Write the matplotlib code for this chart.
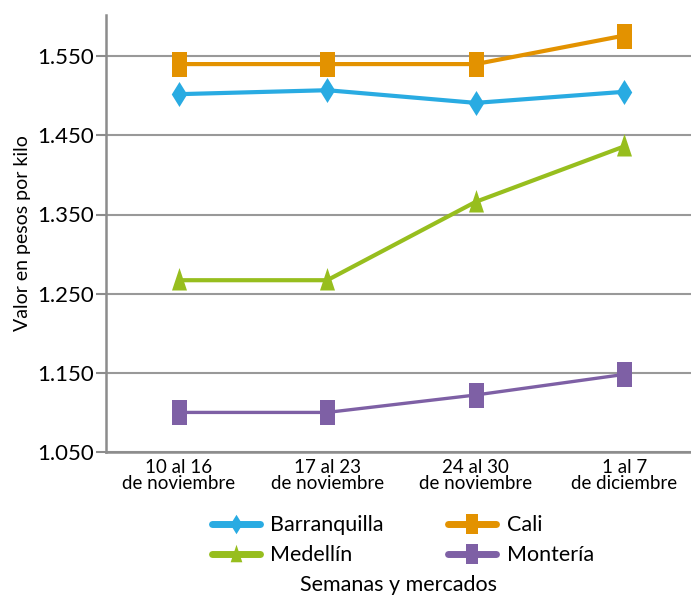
import matplotlib
matplotlib.use("Agg")
import matplotlib.pyplot as plt

plt.rcParams['font.family'] = ['Lato', 'DejaVu Sans']

semanas = ["10 al 16\nde noviembre", "17 al 23\nde noviembre",
           "24 al 30\nde noviembre", "1 al 7\nde diciembre"]
barranquilla = [1502, 1507, 1491, 1505]
cali = [1540, 1540, 1540, 1576]
medellin = [1267, 1267, 1366, 1436]
monteria = [1100, 1100, 1122, 1148]
yticks = [1050, 1150, 1250, 1350, 1450, 1550]

# tall markers (shape of original)
rect = [(-0.6, -1), (0.6, -1), (0.6, 1), (-0.6, 1), (-0.6, -1)]
diam = [(0, -1), (0.62, 0), (0, 1), (-0.62, 0), (0, -1)]
tri = [(-0.6, -0.8), (0.6, -0.8), (0, 1), (-0.6, -0.8)]

series = [
    ("Barranquilla", barranquilla, "#29abe2", diam, 3.0),
    ("Medellín", medellin, "#97be1e", tri, 3.0),
    ("Cali", cali, "#e39200", rect, 3.0),
    ("Montería", monteria, "#7e60a5", rect, 2.4),
]

fig = plt.figure(figsize=(6.91, 5.98), dpi=100)
ax = fig.add_axes([106 / 691, 1 - 452 / 598, 585 / 691, 437 / 598])

x = range(len(semanas))
for nombre, vals, color, mk, lw in series:
    ax.plot(x, vals, color=color, lw=lw, marker=mk, markersize=18,
            markeredgewidth=0, label=nombre, zorder=3, solid_capstyle="round")

ax.set_xlim(-0.49, 3.45)
ax.set_ylim(1050, 1602)
ax.set_yticks(yticks)
ax.set_yticklabels([f"{v:,}".replace(",", ".") for v in yticks], fontsize=16)
ax.set_xticks(list(x))
ax.set_xticklabels(semanas, fontsize=13.5, linespacing=0.95)
ax.tick_params(axis="x", length=0, pad=5)
ax.tick_params(axis="y", length=7, width=1.5, color="#8c8c8c", pad=2)
ax.grid(axis="y", color="#999999", lw=1.5, zorder=0)
for s in ["top", "right"]:
    ax.spines[s].set_visible(False)
for s in ["left", "bottom"]:
    ax.spines[s].set_color("#8c8c8c")
    ax.spines[s].set_linewidth(1.8)

ax.set_ylabel("Valor en pesos por kilo", fontsize=14, labelpad=4)
fig.text(398 / 691, 1 - 585 / 598, "Semanas y mercados", fontsize=15.5,
         ha="center", va="center")

leg = fig.legend(loc="upper center", bbox_to_anchor=(403 / 691, 1 - 496 / 598),
                 ncol=2, frameon=False, fontsize=15.5, handlelength=2.2,
                 columnspacing=3.0, labelspacing=0.45, handletextpad=0.5)
for h in leg.legend_handles:
    h.set_markersize(14)
    h.set_linewidth(5)

fig.savefig("out.png", dpi=100)
